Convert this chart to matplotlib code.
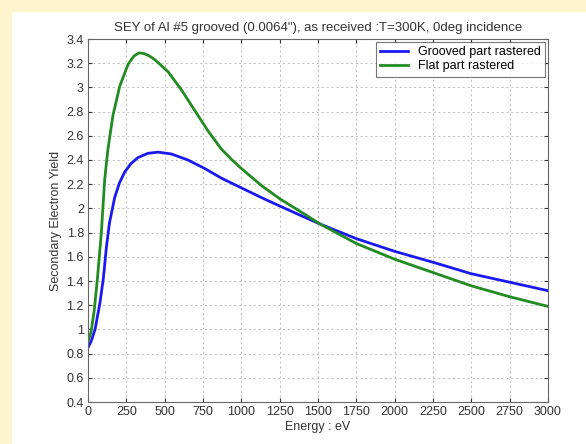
import numpy as np
import matplotlib
matplotlib.use('Agg')
import matplotlib.pyplot as plt

plt.rcParams['font.family'] = ['Liberation Sans', 'DejaVu Sans']

#values
energy_grooved = [0, 20, 46, 78, 100, 120, 140, 174, 205, 239, 280, 326, 390, 457,
                  543, 652, 761, 870, 1000, 1130, 1250, 1390, 1515, 1750, 2000,
                  2250, 2500, 2750, 3000]
sey_grooved = [0.85, 0.90, 1.00, 1.22, 1.42, 1.68, 1.88, 2.09, 2.21, 2.30, 2.37,
               2.42, 2.455, 2.465, 2.45, 2.40, 2.33, 2.25, 2.17, 2.09, 2.02, 1.94,
               1.87, 1.75, 1.645, 1.555, 1.46, 1.39, 1.32]

energy_flat = [0, 20, 40, 60, 75, 87, 109, 130, 163, 207, 261, 300, 333, 365, 400,
               435, 522, 609, 696, 783, 870, 940, 1000, 1130, 1250, 1390, 1515,
               1750, 2000, 2250, 2500, 2750, 3000]
sey_flat = [0.90, 0.98, 1.15, 1.40, 1.62, 1.80, 2.24, 2.49, 2.77, 3.01, 3.19,
            3.26, 3.285, 3.28, 3.26, 3.23, 3.13, 2.98, 2.81, 2.64, 2.49, 2.40,
            2.33, 2.19, 2.08, 1.97, 1.87, 1.71, 1.58, 1.47, 1.36, 1.27, 1.19]

x_ticks = [0, 250, 500, 750, 1000, 1250, 1500, 1750, 2000, 2250, 2500, 2750, 3000]
y_ticks = [0.4, 0.6, 0.8, 1, 1.2, 1.4, 1.6, 1.8, 2, 2.2, 2.4, 2.6, 2.8, 3, 3.2, 3.4]
y_tick_labels = ['0.4', '0.6', '0.8', '1', '1.2', '1.4', '1.6', '1.8', '2', '2.2',
                 '2.4', '2.6', '2.8', '3', '3.2', '3.4']

fig = plt.figure(figsize=(5.86, 4.44), dpi=100)
fig.patch.set_facecolor('white')
#yellow page border on the left and top
fig.patches.append(plt.Rectangle((0, 0), 11 / 586, 1, transform=fig.transFigure,
                                 color='#fff6cf', zorder=0))
fig.patches.append(plt.Rectangle((0, 1 - 11 / 444), 1, 11 / 444, transform=fig.transFigure,
                                 color='#fff6cf', zorder=0))

ax = fig.add_axes([88 / 586, 1 - 402 / 444, 460 / 586, 363 / 444])
ax.plot(energy_grooved, sey_grooved, color='#1a1af0', lw=2, label='Grooved part rastered',
        solid_joinstyle='round')
ax.plot(energy_flat, sey_flat, color='#228b22', lw=2, label='Flat part rastered',
        solid_joinstyle='round')

ax.set_xlim(0, 3000)
ax.set_ylim(0.4, 3.4)
ax.set_xticks(x_ticks)
ax.set_yticks(y_ticks)
ax.set_yticklabels(y_tick_labels)
ax.tick_params(direction='in', top=True, right=True, labelsize=9, length=3,
               colors='#333333', pad=3)
ax.grid(True, linestyle=(0, (2, 3)), color='#bbbbbb', lw=0.7)
for s in ax.spines.values():
    s.set_color('#666666')

ax.set_title('SEY of Al #5 grooved (0.0064"), as received :T=300K, 0deg incidence',
             fontsize=9.5, color='#333333', pad=6)
ax.set_xlabel('Energy : eV', fontsize=9, color='#333333', labelpad=2)
ax.set_ylabel('Secondary Electron Yield', fontsize=9, color='#333333', labelpad=3)

leg = ax.legend(loc='upper right', fontsize=9, frameon=True, fancybox=False,
                edgecolor='#555555', borderpad=0.35, labelspacing=0.15,
                handlelength=2.2, borderaxespad=0.25)
leg.get_frame().set_linewidth(0.8)

fig.savefig('out.png', dpi=100, facecolor=fig.get_facecolor())
